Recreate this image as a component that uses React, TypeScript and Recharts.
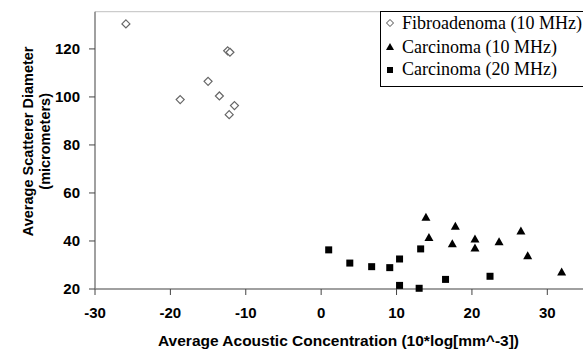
import React from 'react';
import { ScatterChart, Scatter, XAxis, YAxis, ReferenceLine, Legend } from 'recharts';

// Fibroadenoma (10 MHz)
const fibroX = [-25.9, -12.4, -12.1, -15.0, -18.7, -13.5, -11.5, -12.2];
const fibroY = [130.4, 119.2, 118.6, 106.5, 98.9, 100.4, 96.4, 92.6];
// Carcinoma (10 MHz)
const carc10X = [13.9, 14.3, 17.8, 17.4, 20.4, 20.4, 23.6, 26.5, 27.4, 31.9];
const carc10Y = [49.9, 41.5, 46.1, 38.8, 40.8, 37.1, 39.7, 44.2, 33.9, 27.1];
// Carcinoma (20 MHz)
const carc20X = [1.0, 3.8, 6.7, 9.1, 10.4, 10.4, 13.2, 13.0, 16.5, 22.4];
const carc20Y = [36.3, 30.8, 29.3, 28.9, 32.5, 21.5, 36.7, 20.3, 24.0, 25.3];

const seriesNames = ['Fibroadenoma (10 MHz)', 'Carcinoma (10 MHz)', 'Carcinoma (20 MHz)'];
const xTicks = [-30, -20, -10, 0, 10, 20, 30];
const yTicks = [20, 40, 60, 80, 100, 120];
const xDomain = [-30, 35];
const yDomain = [20, 135.5];
const xTitle = 'Average Acoustic Concentration (10*log[mm^-3])';
const yTitle1 = 'Average Scatterer Diameter';
const yTitle2 = '(micrometers)';

const toPoints = (xs: number[], ys: number[]) => xs.map((x, i) => ({ x, y: ys[i] }));

const AXIS_COLOR = '#808080';
const FONT = '"Liberation Sans", Arial, sans-serif';
const tickStyle = { fontFamily: FONT, fontSize: 15, fontWeight: 'bold', fill: '#000' };

const Diamond = (p: any) => {
  const { cx, cy } = p;
  return (
    <path
      d={`M${cx},${cy - 4}L${cx + 4},${cy}L${cx},${cy + 4}L${cx - 4},${cy}Z`}
      fill="#fff"
      stroke="#666"
      strokeWidth={1.2}
    />
  );
};
const Triangle = (p: any) => {
  const { cx, cy } = p;
  return <path d={`M${cx},${cy - 4.5}L${cx + 4.5},${cy + 3.5}L${cx - 4.5},${cy + 3.5}Z`} fill="#000" />;
};
const Square = (p: any) => {
  const { cx, cy } = p;
  return <rect x={cx - 3.5} y={cy - 3.5} width={7} height={7} fill="#000" />;
};

const LegendBox = () => {
  const rowY = [18.3, 41.7, 64];
  const markY = [12, 36, 59];
  return (
    <svg width={215} height={77} style={{ display: 'block' }}>
      <rect x={0.5} y={0.5} width={214} height={75} fill="#fff" stroke="#000" strokeWidth={1} />
      <path
        d={`M10,${markY[0] - 3.5}L13.5,${markY[0]}L10,${markY[0] + 3.5}L6.5,${markY[0]}Z`}
        fill="#fff"
        stroke="#333"
        strokeWidth={0.9}
      />
      <path d={`M10,${markY[1] - 4}L14,${markY[1] + 3}L6,${markY[1] + 3}Z`} fill="#000" />
      <rect x={7} y={markY[2] - 3} width={6} height={6} fill="#000" />
      {seriesNames.map((n, i) => (
        <text
          key={n}
          x={22}
          y={rowY[i]}
          fontFamily='"Liberation Serif", "Times New Roman", serif'
          fontSize={18}
          fill="#000"
        >
          {n}
        </text>
      ))}
    </svg>
  );
};

const XTitle = (props: any) => {
  const vb = props.viewBox || { x: 95, width: 490 };
  return (
    <text
      x={vb.x + vb.width / 2 - 1.5}
      y={345.5}
      textAnchor="middle"
      fontFamily={FONT}
      fontSize={15.5}
      fontWeight="bold"
      fill="#000"
    >
      {xTitle}
    </text>
  );
};

const YTitle = (props: any) => {
  const vb = props.viewBox || { y: 11.7, height: 277.3 };
  const cy = vb.y + vb.height / 2 - 9;
  return (
    <g transform={`translate(0, ${cy}) rotate(-90)`}>
      <text x={0} y={33} textAnchor="middle" fontFamily={FONT} fontSize={14.5} fontWeight="bold" fill="#000">
        {yTitle1}
      </text>
      <text x={0} y={50} textAnchor="middle" fontFamily={FONT} fontSize={14.5} fontWeight="bold" fill="#000">
        {yTitle2}
      </text>
    </g>
  );
};

export default function App() {
  return (
    <div style={{ position: 'absolute', left: 0, top: 0, width: 583, height: 350, overflow: 'hidden', background: '#fff' }}>
      <ScatterChart width={600} height={350} margin={{ top: 11.7, right: 15, left: 0, bottom: 0 }}>
        <XAxis
          type="number"
          dataKey="x"
          domain={xDomain}
          ticks={xTicks}
          height={61}
          tickSize={6}
          tickMargin={12}
          tick={tickStyle}
          stroke={AXIS_COLOR}
          axisLine={{ stroke: AXIS_COLOR, strokeWidth: 1.5 }}
          tickLine={{ stroke: '#444' }}
          label={{ content: XTitle }}
        />
        <YAxis
          type="number"
          dataKey="y"
          domain={yDomain}
          ticks={yTicks}
          width={95}
          tickSize={6}
          tickMargin={9}
          tick={tickStyle}
          stroke={AXIS_COLOR}
          axisLine={{ stroke: AXIS_COLOR, strokeWidth: 1.5 }}
          tickLine={{ stroke: '#444' }}
          label={{ content: YTitle }}
        />
        <ReferenceLine y={yDomain[1]} stroke="#c0c0c0" strokeWidth={1} />
        <Scatter name={seriesNames[0]} data={toPoints(fibroX, fibroY)} shape={Diamond} isAnimationActive={false} />
        <Scatter name={seriesNames[1]} data={toPoints(carc10X, carc10Y)} shape={Triangle} isAnimationActive={false} />
        <Scatter name={seriesNames[2]} data={toPoints(carc20X, carc20Y)} shape={Square} isAnimationActive={false} />
        <Legend
          layout="vertical"
          align="center"
          verticalAlign="middle"
          content={LegendBox}
          wrapperStyle={{ left: 380, top: 11, width: 215, height: 77, right: 'auto', bottom: 'auto' }}
        />
      </ScatterChart>
    </div>
  );
}
